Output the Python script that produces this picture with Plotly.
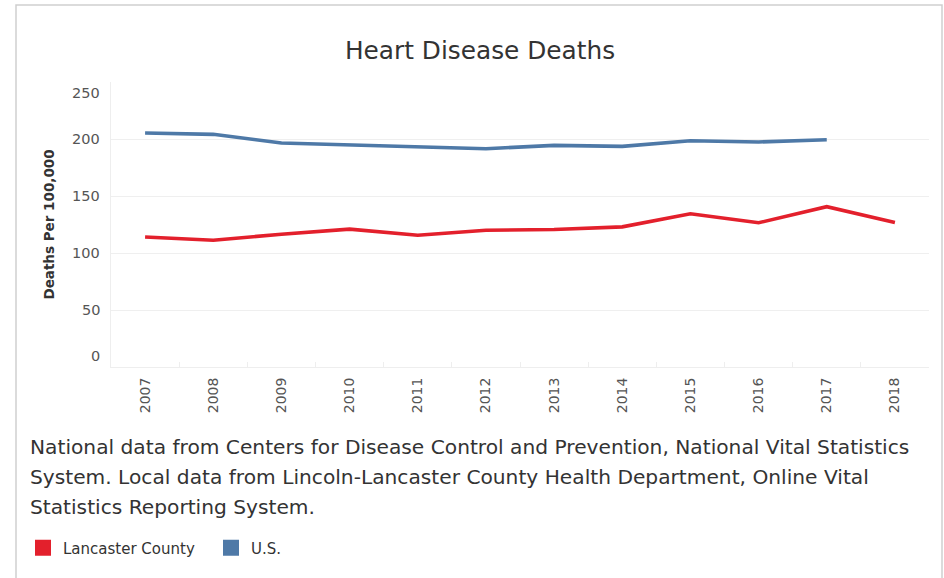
import plotly.graph_objects as go

years = ["2007", "2008", "2009", "2010", "2011", "2012", "2013", "2014", "2015", "2016", "2017", "2018"]
lancaster = [114.1, 111.2, 116.5, 120.9, 115.6, 120.0, 120.6, 122.9, 134.4, 126.5, 140.6, 126.8]
us = [205.3, 204.1, 196.5, 194.7, 192.6, 191.5, 194.4, 193.5, 198.5, 197.4, 199.4, None]
y_ticks = [0, 50, 100, 150, 200, 250]

RED = "#e3202c"
BLUE = "#4e79a7"
FONT = "DejaVu Sans"

W, H = 944, 578
L, R, T, B = 111, 929, 82, 367


def px(x):
    return (x - L) / (R - L)


def py(y):
    return (B - y) / (B - T)


fig = go.Figure()
fig.add_trace(go.Scatter(x=years, y=lancaster, mode="lines", name="Lancaster County",
                         line=dict(color=RED, width=3.6), showlegend=False))
fig.add_trace(go.Scatter(x=years, y=us, mode="lines", name="U.S.",
                         line=dict(color=BLUE, width=3.6), showlegend=False))
# legend-only entries with square swatches
fig.add_trace(go.Scatter(x=[None], y=[None], mode="markers", name="Lancaster County",
                         marker=dict(symbol="square", size=17, color=RED)))
fig.add_trace(go.Scatter(x=[None], y=[None], mode="markers", name="U.S.",
                         marker=dict(symbol="square", size=17, color=BLUE)))

annotations = []
# y tick labels: 0 and 250 are pushed inside the axis range like the original
for v in y_ticks:
    shift = 0
    if v == 0:
        shift = 11
    elif v == 250:
        shift = -11
    annotations.append(dict(x=px(102), xref="paper", xanchor="right", y=v, yref="y",
                            yanchor="middle", yshift=shift, text=str(v), showarrow=False,
                            font=dict(family=FONT, size=14.5, color="#555")))

caption_lines = [
    "National data from Centers for Disease Control and Prevention, National Vital Statistics",
    "System. Local data from Lincoln-Lancaster County Health Department, Online Vital",
    "Statistics Reporting System.",
]
for i, line in enumerate(caption_lines):
    annotations.append(dict(x=px(28), xref="paper", xanchor="left", y=py(447 + 30 * i), yref="paper",
                            yanchor="middle", text=line, showarrow=False, align="left",
                            font=dict(family=FONT, size=20.2, color="#333")))

fig.update_layout(
    width=W, height=H,
    margin=dict(l=L, r=W - R, t=T, b=H - B),
    paper_bgcolor="white", plot_bgcolor="white",
    title=dict(text="Heart Disease Deaths", x=480 / W, xref="container", xanchor="center",
               y=1 - 50 / H, yref="container", yanchor="middle",
               font=dict(family=FONT, size=24.8, color="#333")),
    xaxis=dict(type="category", categoryorder="array", categoryarray=years,
               range=[-0.5, len(years) - 0.5], tickangle=-90, showgrid=False,
               ticks="inside", tickson="boundaries", ticklen=5, tickcolor="#eeeeee",
               showline=True, linecolor="#eeeeee", linewidth=1,
               tickfont=dict(family=FONT, size=14, color="#555"), ticklabelstandoff=4),
    yaxis=dict(range=[0, 250], tickvals=y_ticks, showticklabels=False,
               showgrid=True, gridcolor="#efefef", gridwidth=1, zeroline=False,
               showline=True, linecolor="#eeeeee", linewidth=1, mirror=False,
               title=dict(text="<b>Deaths Per 100,000</b>", standoff=52,
                          font=dict(family=FONT, size=13.5, color="#333"))),
    legend=dict(orientation="h", x=px(23), xanchor="left", y=py(548), yanchor="middle",
                font=dict(family=FONT, size=15, color="#333"), itemwidth=30,
                entrywidth=143, entrywidthmode="pixels",
                bgcolor="rgba(0,0,0,0)", tracegroupgap=0),
    annotations=annotations,
    shapes=[dict(type="rect", xref="paper", yref="paper",
                 x0=px(16), x1=px(942), y0=py(600), y1=py(5),
                 line=dict(color="#cfcfcf", width=1.5), fillcolor="rgba(0,0,0,0)", layer="below")],
    showlegend=True,
)

fig.write_html("out.html", config={"displayModeBar": False},
               post_script="document.body.style.margin='0';document.body.style.overflow='hidden';")
